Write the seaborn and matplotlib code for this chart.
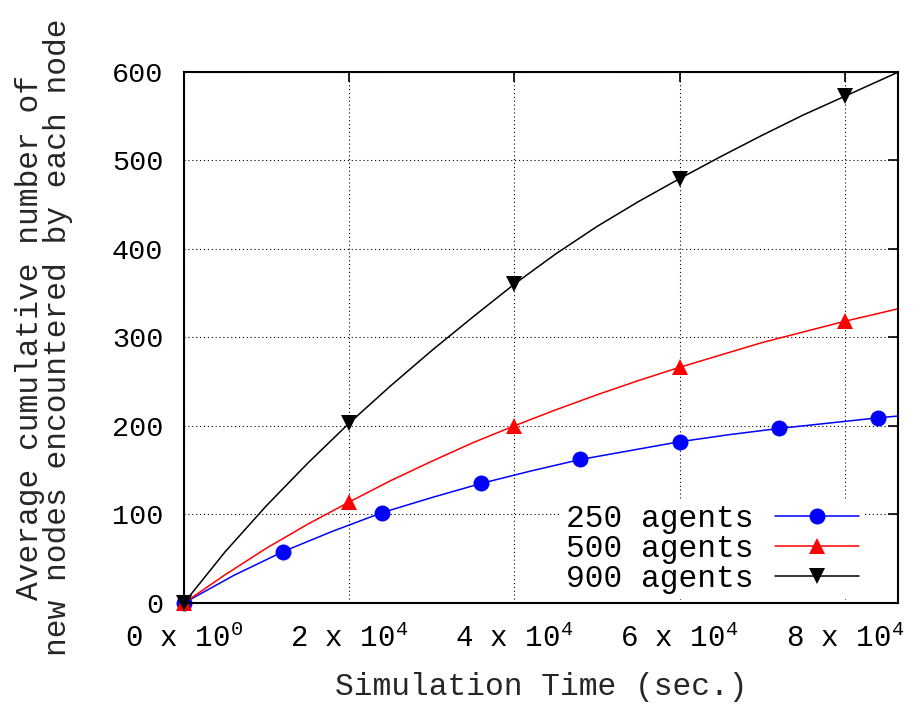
import numpy as np
import pandas as pd
import matplotlib
matplotlib.use('Agg')
import matplotlib.pyplot as plt
from matplotlib.lines import Line2D
import seaborn as sns

# Values
time_250 = [0, 6000, 12000, 18000, 24000, 30000, 36000, 42000, 48000,
            54000, 60000, 66000, 72000, 78000, 84000, 86400]
nodes_250 = [0, 31, 58, 81, 102, 119, 135, 149, 162,
             172, 182, 190, 197, 203, 209, 211]

time_500 = [0, 5000, 10000, 15000, 20000, 25000, 30000, 35000, 40000,
            45000, 50000, 55000, 60000, 65000, 70000, 75000, 80000, 86400]
nodes_500 = [0, 32, 62, 89, 114, 138, 160, 181, 200,
             218, 235, 251, 266, 280, 294, 306, 318, 332]

time_900 = [0, 5000, 10000, 15000, 20000, 25000, 30000, 35000, 40000,
            45000, 50000, 55000, 60000, 65000, 70000, 75000, 80000, 86400]
nodes_900 = [0, 58, 110, 158, 203, 245, 285, 323, 360,
             394, 425, 453, 479, 504, 528, 551, 572, 599]

series_labels = ['250 agents', '500 agents', '900 agents']
x_ticks = [0, 20000, 40000, 60000, 80000]
x_tick_labels = ['0 x 10$^{0}$', '2 x 10$^{4}$', '4 x 10$^{4}$',
                 '6 x 10$^{4}$', '8 x 10$^{4}$']
y_ticks = [0, 100, 200, 300, 400, 500, 600]

sns.set_theme(style='white')
plt.rcParams['font.family'] = ['Liberation Mono', 'DejaVu Sans']
plt.rcParams['mathtext.fontset'] = 'custom'
plt.rcParams['mathtext.rm'] = 'Liberation Mono'
plt.rcParams['mathtext.it'] = 'Liberation Mono'
plt.rcParams['text.color'] = 'black'
plt.rcParams['xtick.color'] = 'black'
plt.rcParams['ytick.color'] = 'black'

fig = plt.figure(figsize=(9.15, 7.04), dpi=100)
ax = fig.add_axes([0.2011, 0.1435, 0.7798, 0.7549])

# Style per series: colour, marker, marker size, which points get a marker
styles = [
    ('#0000ff', 'o', 11.5, list(range(0, 15, 2))),
    ('#ff0000', '^', 11, [0, 4, 8, 12, 16]),
    ('#000000', 'v', 11, [0, 4, 8, 12, 16]),
]
data = [(time_250, nodes_250), (time_500, nodes_500), (time_900, nodes_900)]

handles = []
for (t, n), (color, marker, msize, every) in zip(data, styles):
    sns.lineplot(x=t, y=n, ax=ax, color=color, marker=marker,
                 markersize=msize, markevery=every, linewidth=1.1,
                 markeredgewidth=0, markeredgecolor=color,
                 errorbar=None, legend=False, clip_on=False)
    handles.append(Line2D([], [], color=color, marker=marker, markersize=msize,
                          markeredgewidth=0, linewidth=1.1))

ax.set_xlim(0, 86400)
ax.set_ylim(0, 600)
ax.set_xticks(x_ticks)
ax.set_xticklabels(x_tick_labels)
ax.set_yticks(y_ticks)

ax.grid(True, color='black', linestyle=(0, (1, 2.5)), linewidth=0.8)
ax.set_axisbelow(True)

for spine in ax.spines.values():
    spine.set_visible(True)
    spine.set_color('black')
    spine.set_linewidth(1.5)

ax.tick_params(axis='both', direction='in', length=7, width=1.2,
               top=True, right=True, labelsize=20.5)
ax.tick_params(axis='x', pad=15, labelsize=21)
ax.tick_params(axis='y', pad=15)

ax.set_xlabel('Simulation Time (sec.)', fontsize=22.5)
ax.set_ylabel('Average cumulative number of\nnew nodes encountered by each node',
              fontsize=22.5, linespacing=0.95)
ax.xaxis.set_label_coords(0.5, -0.13)
ax.yaxis.set_label_coords(-0.155, 0.5)

leg = ax.legend(handles, series_labels, loc='center right',
                bbox_to_anchor=(0.953, 0.1016), markerfirst=False,
                frameon=True, fancybox=False, framealpha=1,
                borderpad=0.15, labelspacing=0.0, handlelength=2.7,
                handletextpad=0.7, borderaxespad=0, fontsize=22.5)
leg.get_frame().set_edgecolor('white')
leg.get_frame().set_linewidth(0)

fig.savefig('out.png', dpi=100)
